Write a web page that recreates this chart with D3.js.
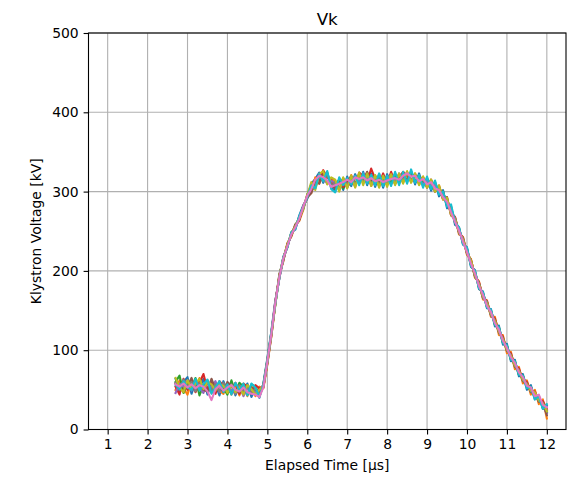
<!DOCTYPE html>
<html><head><meta charset="utf-8">
<script src="https://cdn.jsdelivr.net/npm/d3@7"></script>
<style>body{margin:0;background:#fff;} text{font-family:"DejaVu Sans",sans-serif;fill:#000;}</style>
</head><body><svg id="c" width="582" height="477"></svg>
<script>
const chartTitle = "Vk";
const xLabel = "Elapsed Time [μs]";
const yLabel = "Klystron Voltage [kV]";
const xTicks = [1,2,3,4,5,6,7,8,9,10,11,12];
const yTicks = [0,100,200,300,400,500];
const xDomain = [0.52, 12.48];
const yDomain = [0, 500];
// time samples in μs, 2.7 .. 12.0 step 0.1
const time = [2.7,2.8,2.9,3.0,3.1,3.2,3.3,3.4,3.5,3.6,3.7,3.8,3.9,4.0,4.1,4.2,4.3,4.4,4.5,4.6,
4.7,4.8,4.9,5.0,5.1,5.2,5.3,5.4,5.5,5.6,5.7,5.8,5.9,6.0,6.1,6.2,6.3,6.4,6.5,6.6,
6.7,6.8,6.9,7.0,7.1,7.2,7.3,7.4,7.5,7.6,7.7,7.8,7.9,8.0,8.1,8.2,8.3,8.4,8.5,8.6,
8.7,8.8,8.9,9.0,9.1,9.2,9.3,9.4,9.5,9.6,9.7,9.8,9.9,10.0,10.1,10.2,10.3,10.4,10.5,10.6,
10.7,10.8,10.9,11.0,11.1,11.2,11.3,11.4,11.5,11.6,11.7,11.8,11.9,12.0];
const shot1 = [64,48,60,66,45,59,51,64,44,58, 57,43,61,48,58,43,55,48,58,41, 52,40,58,90,124,163,190,218,229,249,
252,270,283,291,310,316,324,311,322,305, 301,316,302,319,307,322,310,325,308,323, 306,321,305,322,309,323,310,323,312,326,
309,323,307,317,301,312,294,302,279,282, 258,255,233,230,205,201,177,174,153,152, 130,131,107,108,86,88,67,70,50,56, 38,42,26,30];
const shot2 = [50,62,52,44,61,49,65,48,60,46, 59,49,45,58,44,57,43,56,42,55, 42,54,52,82,117,158,195,212,235,243,
258,263,277,297,298,318,310,325,310,317, 313,302,316,305,321,308,322,311,324,307, 320,307,319,308,321,309,322,311,324,312,
323,309,319,305,315,300,308,290,293,270, 268,246,243,220,215,191,187,164,163,142, 142,119,119,96,98,76,79,58,62,44, 50,32,38,14];
const shot3 = [60,68,46,58,51,65,43,56,62,48, 47,59,52,44,62,47,59,54,44,57, 54,44,57,88,122,157,194,217,230,248,
256,268,278,296,308,306,320,315,324,307, 311,314,304,315,317,310,320,313,320,319, 310,317,309,318,311,321,312,321,314,322,
313,319,309,315,305,310,298,300,283,280, 261,254,235,228,207,199,179,172,155,150, 132,129,109,106,88,86,69,68,54,54, 40,42,28,22];
const shot4 = [54,44,64,50,63,47,59,70,50,62, 45,61,55,50,46,59,45,58,54,45, 56,52,53,84,121,162,191,216,233,245,
257,265,282,293,306,314,314,327,318,315, 303,312,306,313,319,306,324,319,312,329, 316,309,323,310,325,311,318,325,320,314,
321,311,317,309,311,304,306,294,289,274, 268,249,242,223,214,194,186,167,162,145, 140,123,117,100,96,80,77,62,60,48, 48,36,36,26];
const shot5 = [46,58,54,62,49,61,53,46,60,52, 61,47,57,54,50,45,55,42,52,51, 46,50,56,86,119,161,193,214,231,247,
254,267,279,295,301,307,319,316,310,314, 310,302,313,305,316,320,313,323,319,309, 311,322,310,317,321,312,322,314,324,315,
314,312,310,314,306,309,299,299,284,279, 262,253,236,227,208,198,180,171,156,149, 134,127,111,104,90,84,71,66,56,52, 42,40,30,20];
const shot6 = [58,52,48,54,65,51,57,50,48,64, 51,55,47,60,54,49,47,52,46,53, 50,46,54,83,118,159,196,213,234,244,
259,264,281,292,298,313,310,322,322,308, 304,311,316,308,310,317,319,314,325,312, 320,310,316,311,318,318,313,320,315,321,
320,318,316,305,315,300,305,290,293,270, 266,248,240,222,212,193,184,166,160,144, 138,122,115,99,94,79,75,61,58,47, 46,35,34,18];
const shot7 = [59,50,63,54,60,48,59,51,60,49, 57,48,59,48,57,45,56,47,56,45, 52,45,55,87,121,160,192,215,232,246,
255,266,280,294,309,305,322,313,323,306, 313,303,317,307,319,308,321,312,322,309, 319,307,320,309,321,310,323,313,324,313,
322,310,318,306,314,301,306,292,291,273, 267,248,241,222,213,193,185,166,161,144, 137,123,115,100,94,80,75,62,58,48, 46,36,33,24];
const shot8 = [65,53,47,62,52,58,64,51,60,57, 49,57,55,46,56,47,53,44,56,51, 44,50,54,85,120,158,193,216,233,247,
256,267,279,295,312,302,322,326,309,318, 315,300,318,304,320,305,324,308,323,307, 321,305,320,306,322,308,323,310,326,311,
323,308,319,305,315,300,308,290,292,271, 265,250,239,224,213,195,183,168,159,146, 137,124,114,101,93,81,74,63,57,49, 47,37,33,23];
const shot9 = [56,51,61,53,50,64,49,57,63,45, 53,61,47,57,44,59,49,58,43,58, 53,41,56,86,123,159,191,217,230,248,
253,269,281,293,308,304,322,313,326,303, 299,318,308,317,309,320,308,323,310,321, 308,323,307,320,307,325,308,325,310,328,
311,321,305,319,303,314,296,300,281,284, 261,255,234,229,206,200,178,173,154,151, 132,129,109,106,88,86,69,68,52,54, 38,42,26,32];
const shot10 = [57,54,58,53,57,52,56,54,48,37, 51,55,49,53,56,50,48,53,47,45, 44,41,53,86,121,160,192,216,231,246,
255,266,281,295,303,315,320,318,314,306, 308,310,312,315,312,318,316,318,314,317, 313,315,312,314,316,317,315,320,323,319,
320,313,316,309,312,304,302,293,287,274, 262,251,237,224,209,197,181,170,156,148, 134,126,112,103,91,84,72,66,55,53, 42,44,31,28];
const shots = [shot1,shot2,shot3,shot4,shot5,shot6,shot7,shot8,shot9,shot10];
const palette = ["#1f77b4","#ff7f0e","#2ca02c","#d62728","#9467bd","#8c564b","#7f7f7f","#bcbd22","#17becf","#e377c2"];

const svg = d3.select("#c");
const m = {l:88.5, r:566, t:33, b:429.5};
const x = d3.scaleLinear().domain(xDomain).range([m.l, m.r]);
const y = d3.scaleLinear().domain(yDomain).range([m.b, m.t]);

// grid
const g = svg.append("g");
g.selectAll("line.vx").data(xTicks).enter().append("line")
  .attr("x1", d=>x(d)).attr("x2", d=>x(d)).attr("y1", m.t).attr("y2", m.b)
  .attr("stroke","#b0b0b0").attr("stroke-width",1.1);
g.selectAll("line.hy").data(yTicks).enter().append("line")
  .attr("x1", m.l).attr("x2", m.r).attr("y1", d=>y(d)).attr("y2", d=>y(d))
  .attr("stroke","#b0b0b0").attr("stroke-width",1.1);

svg.append("clipPath").attr("id","clip").append("rect")
  .attr("x",m.l).attr("y",m.t).attr("width",m.r-m.l).attr("height",m.b-m.t);

const line = d3.line().x((d,i)=>x(time[i])).y(d=>y(d));
svg.append("g").attr("clip-path","url(#clip)").selectAll("path").data(shots).enter().append("path")
  .attr("d", line).attr("fill","none").attr("stroke",(d,i)=>palette[i])
  .attr("stroke-width",2.08).attr("stroke-linejoin","round").attr("stroke-linecap","square");

// axes
const xa = svg.append("g").attr("transform",`translate(0,${m.b})`)
  .call(d3.axisBottom(x).tickValues(xTicks).tickFormat(d3.format("d")).tickSize(4.9).tickPadding(4.9));
const ya = svg.append("g").attr("transform",`translate(${m.l},0)`)
  .call(d3.axisLeft(y).tickValues(yTicks).tickFormat(d3.format("d")).tickSize(4.9).tickPadding(4.9));
[xa,ya].forEach(a=>{
  a.select(".domain").remove();
  a.selectAll(".tick line").attr("stroke","#000").attr("stroke-width",1.1);
  a.selectAll(".tick text").attr("font-size",13.9).attr("font-family","DejaVu Sans").attr("fill","#000");
});
svg.append("rect").attr("x",m.l).attr("y",m.t).attr("width",m.r-m.l).attr("height",m.b-m.t)
  .attr("fill","none").attr("stroke","#000").attr("stroke-width",1.1);

svg.append("text").attr("x",(m.l+m.r)/2).attr("y",25).attr("text-anchor","middle")
  .attr("font-size",16.7).text(chartTitle);
svg.append("text").attr("x",(m.l+m.r)/2).attr("y",470).attr("text-anchor","middle")
  .attr("font-size",13.9).text(xLabel);
svg.append("text").attr("transform",`translate(41,${(m.t+m.b)/2}) rotate(-90)`).attr("text-anchor","middle")
  .attr("font-size",13.9).text(yLabel);
</script></body></html>
